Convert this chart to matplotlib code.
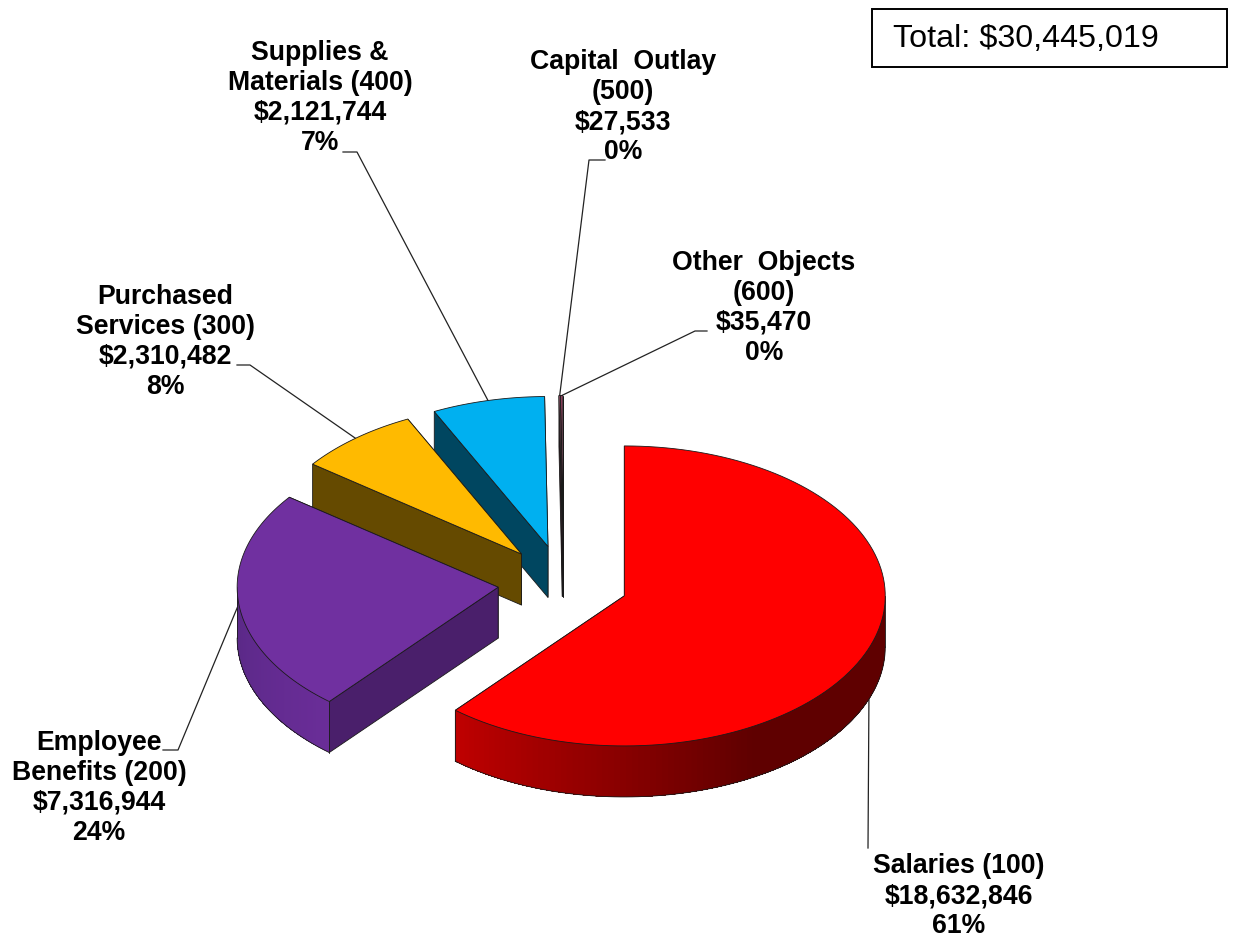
import matplotlib
matplotlib.use("Agg")
import matplotlib.pyplot as plt
import numpy as np
from matplotlib.patches import Rectangle

categories = ["Salaries (100)", "Employee\nBenefits (200)", "Purchased\nServices (300)",
              "Supplies &\nMaterials (400)", "Capital  Outlay\n(500)", "Other  Objects\n(600)"]
values = [18632846, 7316944, 2310482, 2121744, 27533, 35470]
amounts = ["$18,632,846", "$7,316,944", "$2,310,482", "$2,121,744", "$27,533", "$35,470"]
percents = ["61%", "24%", "8%", "7%", "0%", "0%"]
total_label = "Total: $30,445,019"

colors = ["#FF0000", "#7030A0", "#FFBA00", "#00B0F0", "#B0607A", "#C0507A"]
side_colors = ["#5F0000", "#4A1F6B", "#654A00", "#004660", "#30101A", "#30101A"]
# outer wall gradient: (angle, colour) stops for each slice
wall_stops = [
    ([150, 220], ["#5F0000", "#C00000"]),
    ([220, 270], ["#6A2D98", "#582885"]),
    ([0, 360], ["#654A00", "#654A00"]),
    ([0, 360], ["#004660", "#004660"]),
    ([0, 360], ["#30101A", "#30101A"]),
    ([0, 360], ["#30101A", "#30101A"]),
]

label_pos = [(959, 896), (99, 788), (165, 342), (320, 98), (623, 107), (764, 308)]
# leader path from the label towards the slice rim
leader_elbows = [[(868, 848)], [(163, 750), (178, 750)], [(237, 365), (250, 365)],
                 [(343, 152), (357, 152)], [(605, 160), (589, 160)], [(707, 331), (695, 331)]]

CX, CY = 563, 583
RX, RY = 261, 150
DEPTH = 51
EXPLODE = 0.25
EDGE = "#1a1a1a"


def rim(cx, cy, t):
    t = np.radians(t)
    return cx + RX * np.sin(t), cy - RY * np.cos(t)


def to_rgb(c):
    return np.array(matplotlib.colors.to_rgb(c))


fig = plt.figure(figsize=(12.35, 9.38), dpi=100)
ax = fig.add_axes([0, 0, 1, 1])
ax.set_xlim(0, 1235)
ax.set_ylim(938, 0)
ax.axis("off")

fracs = np.array(values) / sum(values)
ends = np.cumsum(fracs) * 360
starts = ends - fracs * 360
mids = (starts + ends) / 2
apex_x = CX + EXPLODE * RX * np.sin(np.radians(mids))
apex_y = CY - EXPLODE * RY * np.cos(np.radians(mids))

# leaders go first so the slices cover their ends
for i in range(len(values)):
    ax_, ay_ = rim(apex_x[i], apex_y[i], mids[i])
    pts = leader_elbows[i] + [(ax_, ay_)]
    ax.plot([p[0] for p in pts], [p[1] for p in pts], color="#222222", lw=0.9, zorder=1)

# back to front
z = 2
for i in range(len(values) - 1, -1, -1):
    a0, a1 = starts[i], ends[i]
    px, py = apex_x[i], apex_y[i]
    ts = np.linspace(a0, a1, 120)
    xs, ys = rim(px, py, ts)

    # radial walls, the one that faces us is the one at the start angle
    for t in (a1, a0):
        rx_, ry_ = rim(px, py, t)
        ax.fill([px, rx_, rx_, px], [py, ry_, ry_ + DEPTH, py + DEPTH],
                fc=side_colors[i], ec=EDGE, lw=0.6, zorder=z)
        z += 1

    # outer wall, front half only
    lo, hi = max(a0, 90), min(a1, 270)
    if hi > lo:
        stops, cols = wall_stops[i]
        rgb = np.array([to_rgb(c) for c in cols])
        grid = np.linspace(lo, hi, 100)
        # each strip runs on to the far end, so later ones paint over the seams
        for t0 in grid[:-1]:
            c = [np.interp(t0, stops, rgb[:, k]) for k in range(3)]
            part = np.linspace(t0, hi, 60)
            x0, y0 = rim(px, py, part)
            ax.fill(np.r_[x0, x0[::-1]], np.r_[y0, y0[::-1] + DEPTH], fc=c, ec="none", zorder=z)
            z += 1
        wx, wy = rim(px, py, grid)
        ax.plot(wx, wy + DEPTH, color=EDGE, lw=0.6, zorder=z)
        ax.plot([wx[0], wx[0]], [wy[0], wy[0] + DEPTH], color=EDGE, lw=0.6, zorder=z)
        ax.plot([wx[-1], wx[-1]], [wy[-1], wy[-1] + DEPTH], color=EDGE, lw=0.6, zorder=z)
        z += 1

    # top face
    ax.fill(np.r_[px, xs], np.r_[py, ys], fc=colors[i], ec=EDGE, lw=0.6, zorder=z)
    z += 1

for i, cat in enumerate(categories):
    txt = f"{cat}\n{amounts[i]}\n{percents[i]}"
    ax.text(label_pos[i][0], label_pos[i][1], txt, ha="center", va="center", family="Liberation Sans",
            fontweight="bold", fontsize=19.2, linespacing=1.2, color="black", zorder=z + 1)

ax.add_patch(Rectangle((871.5, 9.5), 355, 58, fc="white", ec="black", lw=1.4, zorder=z + 1))
ax.text(893, 39, total_label, ha="left", va="center", family="Liberation Sans", fontsize=23.2,
        color="black", zorder=z + 2)

fig.savefig("out.png", dpi=100)
